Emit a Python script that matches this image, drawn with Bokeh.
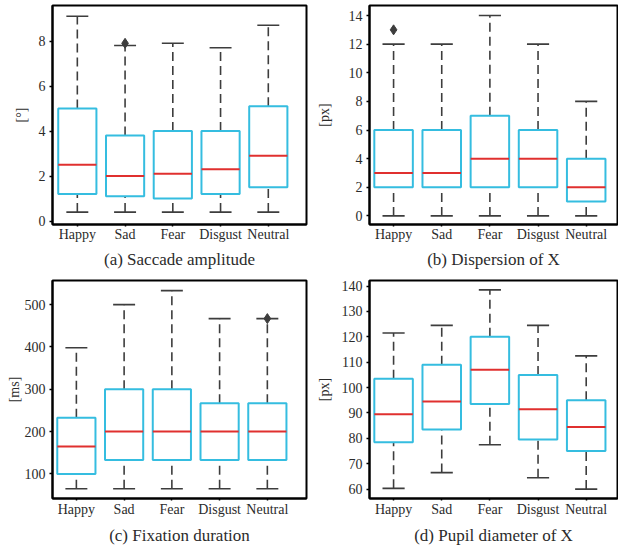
from bokeh.plotting import figure
from bokeh.models import ColumnDataSource, FixedTicker, Range1d, Title
from bokeh.layouts import row, column
from bokeh.embed import file_html
from bokeh.resources import INLINE

cats = ["Happy", "Sad", "Fear", "Disgust", "Neutral"]

# (a) Saccade amplitude
sacc_low = [0.4, 0.4, 0.4, 0.4, 0.4]
sacc_q1 = [1.2, 1.1, 1.0, 1.2, 1.5]
sacc_med = [2.5, 2.0, 2.1, 2.3, 2.9]
sacc_q3 = [5.0, 3.8, 4.0, 4.0, 5.1]
sacc_high = [9.1, 7.8, 7.9, 7.7, 8.7]
sacc_out_cat = ["Sad"]
sacc_out_val = [7.9]

# (b) Dispersion of X
disp_low = [0, 0, 0, 0, 0]
disp_q1 = [2, 2, 2, 2, 1]
disp_med = [3, 3, 4, 4, 2]
disp_q3 = [6, 6, 7, 6, 4]
disp_high = [12, 12, 14, 12, 8]
disp_out_cat = ["Happy"]
disp_out_val = [13]

# (c) Fixation duration
fix_low = [65, 65, 65, 65, 65]
fix_q1 = [100, 133, 133, 133, 133]
fix_med = [165, 200, 200, 200, 200]
fix_q3 = [233, 300, 300, 267, 267]
fix_high = [398, 500, 533, 467, 467]
fix_out_cat = ["Neutral"]
fix_out_val = [467]

# (d) Pupil diameter of X
pup_low = [60.3, 66.5, 77.5, 64.5, 60.0]
pup_q1 = [78.5, 83.5, 93.5, 79.5, 75.0]
pup_med = [89.5, 94.5, 107.0, 91.5, 84.5]
pup_q3 = [103.5, 109.0, 120.0, 105.0, 95.0]
pup_high = [121.5, 124.5, 138.5, 124.5, 112.5]
pup_out_cat = []
pup_out_val = []

FONT = "Liberation Serif"
BOX = "#35bde0"
MED = "#e0302f"
WH = "#3d3d3d"
TXT = "#2b2b2b"


def panel(low, q1, med, q3, high, out_cat, out_val, xr, yr, yticks, ylabel,
          caption, cap_offset, cap_standoff, lab_standoff, xlab_standoff,
          width, height, mbl, mbr, mbt, mbb):
    p = figure(width=width, height=height, output_backend="svg", toolbar_location=None,
               x_range=Range1d(*xr), y_range=Range1d(*yr),
               min_border_left=mbl, min_border_right=mbr, min_border_top=mbt,
               min_border_bottom=mbb)
    xs = list(range(len(cats)))
    src = ColumnDataSource(dict(x=xs, low=low, q1=q1, med=med, q3=q3, high=high,
                                xl=[v - 0.4 for v in xs], xr=[v + 0.4 for v in xs],
                                cl=[v - 0.23 for v in xs], cr=[v + 0.23 for v in xs]))
    p.segment("x", "q3", "x", "high", source=src, line_color=WH, line_width=1.6,
              line_dash="9 5")
    p.segment("x", "low", "x", "q1", source=src, line_color=WH, line_width=1.6,
              line_dash="9 5")
    p.segment("cl", "high", "cr", "high", source=src, line_color=WH, line_width=1.6)
    p.segment("cl", "low", "cr", "low", source=src, line_color=WH, line_width=1.6)
    p.quad(left="xl", right="xr", bottom="q1", top="q3", source=src,
           fill_color=None, line_color=BOX, line_width=2)
    p.segment("xl", "med", "xr", "med", source=src, line_color=MED, line_width=2)
    if out_cat:
        ox = [cats.index(c) for c in out_cat]
        p.scatter(ox, out_val, marker="diamond", size=10, color=WH)

    p.xgrid.visible = False
    p.ygrid.visible = False
    p.outline_line_color = "black"
    p.outline_line_width = 2
    p.outline_line_alpha = 1
    p.background_fill_color = "white"
    p.border_fill_color = "white"

    p.xaxis.ticker = FixedTicker(ticks=xs)
    p.xaxis.major_label_overrides = {i: c for i, c in enumerate(cats)}
    p.yaxis.ticker = FixedTicker(ticks=yticks)
    for ax in (p.xaxis[0], p.yaxis[0]):
        ax.axis_line_color = "black"
        ax.axis_line_width = 2
        ax.major_tick_line_color = "black"
        ax.major_tick_line_width = 1.5
        ax.major_tick_in = 0
        ax.minor_tick_line_color = None
        ax.major_label_text_font = FONT
        ax.major_label_text_font_size = "14px"
        ax.major_label_text_color = TXT
    p.xaxis.major_tick_out = 2
    p.yaxis.major_tick_out = 3
    p.xaxis.major_label_standoff = xlab_standoff
    p.yaxis.major_label_standoff = 4
    p.yaxis.axis_label = ylabel
    p.yaxis.axis_label_text_font = FONT
    p.yaxis.axis_label_text_font_size = "14px"
    p.yaxis.axis_label_text_font_style = "normal"
    p.yaxis.axis_label_text_color = TXT
    p.yaxis.axis_label_standoff = lab_standoff

    p.add_layout(Title(text=caption, align="center", offset=cap_offset,
                       text_font=FONT, text_font_size="17px", text_font_style="normal",
                       text_color=TXT, standoff=cap_standoff), "below")
    return p


pa = panel(sacc_low, sacc_q1, sacc_med, sacc_q3, sacc_high, sacc_out_cat, sacc_out_val,
           (-0.52, 4.80), (-0.15, 9.58), [0, 2, 4, 6, 8], "[°]",
           "(a) Saccade amplitude", 12, 6, 7, 0, 312, 279, 52, 6, 5, 55)
pb = panel(disp_low, disp_q1, disp_med, disp_q3, disp_high, disp_out_cat, disp_out_val,
           (-0.5, 4.65), (-0.6, 14.7), [0, 2, 4, 6, 8, 10, 12, 14], "[px]",
           "(b) Dispersion of X", -5, 6, 14, 0, 306, 279, 57, 1, 5, 55)
pc = panel(fix_low, fix_q1, fix_med, fix_q3, fix_high, fix_out_cat, fix_out_val,
           (-0.5, 4.82), (42, 557), [100, 200, 300, 400, 500], "[ms]",
           "(c) Fixation duration", 9, 8, 0, 1, 312, 271, 52, 6, 1, 52)
pd_ = panel(pup_low, pup_q1, pup_med, pup_q3, pup_high, pup_out_cat, pup_out_val,
            (-0.5, 4.65), (56.3, 142.2), [60, 70, 80, 90, 100, 110, 120, 130, 140], "[px]",
            "(d) Pupil diameter of X", 0, 8, 7, 1, 306, 271, 57, 1, 1, 52)

layout = column(row(pa, pb), row(pc, pd_))

open("out.html", "w").write(file_html(layout, INLINE))
